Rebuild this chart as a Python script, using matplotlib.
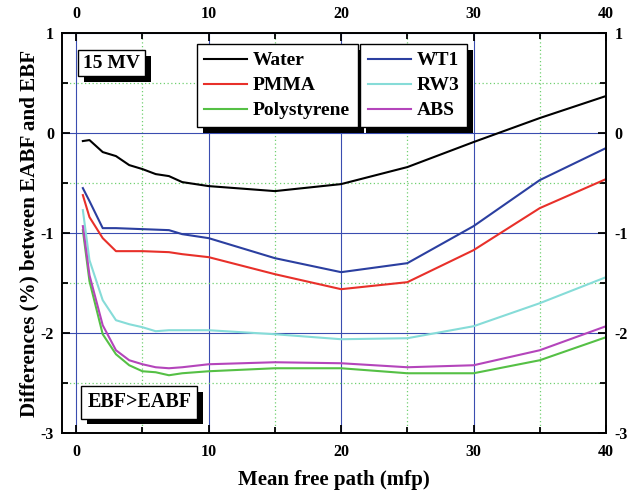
import matplotlib
matplotlib.use("Agg")
import matplotlib.pyplot as plt
import matplotlib.patheffects as pe
from matplotlib.ticker import MultipleLocator

plt.rcParams['font.family'] = ['Liberation Serif', 'DejaVu Serif']
plt.rcParams['font.weight'] = 'bold'

mfp = [0.5, 1, 2, 3, 4, 5, 6, 7, 8, 10, 15, 20, 25, 30, 35, 40]
water = [-0.08, -0.07, -0.19, -0.23, -0.32, -0.36, -0.41, -0.43, -0.49, -0.53, -0.58, -0.51, -0.34, -0.09, 0.15, 0.37]
pmma = [-0.62, -0.84, -1.05, -1.18, -1.18, -1.18, -1.185, -1.19, -1.21, -1.24, -1.41, -1.56, -1.49, -1.17, -0.75, -0.46]
polystyrene = [-0.97, -1.48, -2.01, -2.21, -2.32, -2.38, -2.39, -2.42, -2.40, -2.38, -2.35, -2.35, -2.40, -2.40, -2.27, -2.04]
wt1 = [-0.55, -0.68, -0.95, -0.95, -0.955, -0.96, -0.965, -0.97, -1.01, -1.05, -1.25, -1.39, -1.30, -0.93, -0.47, -0.15]
rw3 = [-0.77, -1.27, -1.67, -1.87, -1.91, -1.94, -1.98, -1.97, -1.97, -1.97, -2.01, -2.06, -2.05, -1.93, -1.70, -1.44]
abs_ = [-0.93, -1.42, -1.92, -2.17, -2.27, -2.31, -2.34, -2.35, -2.34, -2.31, -2.29, -2.30, -2.34, -2.32, -2.17, -1.93]

fig = plt.figure(figsize=(6.27, 4.9), dpi=100)
ax = fig.add_axes([0.0994, 0.1157, 0.8671, 0.8170])

# grid first so the curves sit on top
ax.xaxis.set_major_locator(MultipleLocator(10))
ax.xaxis.set_minor_locator(MultipleLocator(5))
ax.yaxis.set_major_locator(MultipleLocator(1))
ax.yaxis.set_minor_locator(MultipleLocator(0.5))
ax.grid(which='major', color='#3a4db0', linewidth=0.8)
ax.grid(which='minor', color='#70d070', linewidth=0.9, linestyle=(0, (1, 2)))
ax.set_axisbelow(True)

lw = 1.5
l1, = ax.plot(mfp, water, color='black', lw=lw, label='Water')
l2, = ax.plot(mfp, pmma, color='#e8302a', lw=lw, label='PMMA')
l3, = ax.plot(mfp, polystyrene, color='#55c045', lw=lw, label='Polystyrene')
l4, = ax.plot(mfp, wt1, color='#2b3fa0', lw=lw, label='WT1')
l5, = ax.plot(mfp, rw3, color='#86dcd8', lw=lw, label='RW3')
l6, = ax.plot(mfp, abs_, color='#b445bb', lw=lw, label='ABS')

ax.set_xlim(-1.05, 40)
ax.set_ylim(-3, 1)

for s in ax.spines.values():
    s.set_linewidth(1.4)

ax.tick_params(which='both', direction='in', top=True, right=True,
               labeltop=True, labelright=True, width=1.3, labelsize=11.5)
ax.tick_params(which='major', length=6)
ax.tick_params(which='minor', length=4)
ax.tick_params(axis='x', which='major', pad=8)
ax.tick_params(axis='y', which='major', pad=6)
ax.set_xticks([0, 10, 20, 30, 40])
ax.set_yticks([1, 0, -1, -2, -3])
ax.set_yticklabels(['1', '0', '-1', '-2', '-3'])

ax.set_xlabel('Mean free path (mfp)', fontsize=15, fontweight='bold', labelpad=7)
ax.set_ylabel('Differences (%) between EABF and EBF', fontsize=15.2,
              fontweight='bold', labelpad=1)

shadow = [pe.SimplePatchShadow(offset=(4.3, -4.3), shadow_rgbFace='black', alpha=1.0), pe.Normal()]

leg1 = ax.legend(handles=[l1, l2, l3], loc='upper left', bbox_to_anchor=(0.247, 0.9725),
                 borderaxespad=0, fontsize=14, handlelength=2.2, handletextpad=0.3,
                 labelspacing=0.38, borderpad=0.4, fancybox=False, framealpha=1,
                 edgecolor='black')
leg1.get_frame().set_linewidth(1.0)
leg1.get_frame().set_path_effects(shadow)
ax.add_artist(leg1)

leg2 = ax.legend(handles=[l4, l5, l6], loc='upper left', bbox_to_anchor=(0.5476, 0.9725),
                 borderaxespad=0, fontsize=14, handlelength=2.2, handletextpad=0.3,
                 labelspacing=0.38, borderpad=0.4, fancybox=False, framealpha=1,
                 edgecolor='black')
leg2.get_frame().set_linewidth(1.0)
leg2.get_frame().set_path_effects(shadow)

box = dict(boxstyle='square,pad=0.25', facecolor='white', edgecolor='black', linewidth=1.0)
t1 = ax.text(0.091, 0.925, '15 MV', transform=ax.transAxes, fontsize=14,
             fontweight='bold', ha='center', va='center', bbox=box, zorder=5)
t2 = ax.text(0.1415, 0.077, 'EBF>EABF', transform=ax.transAxes, fontsize=14.5,
             fontweight='bold', ha='center', va='center',
             bbox=dict(box, boxstyle='square,pad=0.3'), zorder=5)
for t in (t1, t2):
    t.get_bbox_patch().set_path_effects(shadow)

fig.savefig('out.png', dpi=100)
